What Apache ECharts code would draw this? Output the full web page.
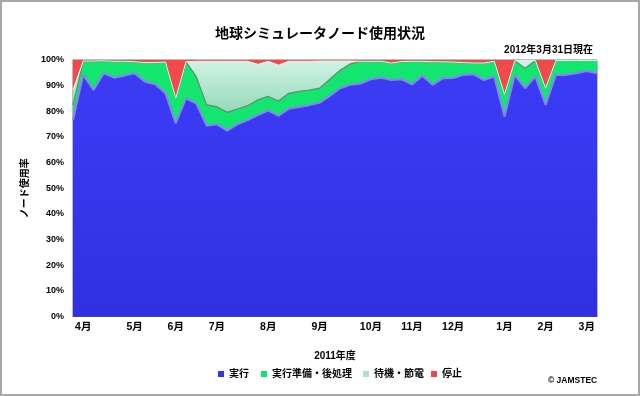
<!DOCTYPE html>
<html><head><meta charset="utf-8">
<script src="https://cdn.jsdelivr.net/npm/echarts@6/dist/echarts.min.js"></script>
<style>html,body{margin:0;padding:0;background:#fff}#c{width:640px;height:396px}</style>
</head><body><div id="c"></div>
<script>
// weekly categories, FY2011
const weeks = ['W01','W02','W03','W04','W05','W06','W07','W08','W09','W10','W11','W12','W13',
  'W14','W15','W16','W17','W18','W19','W20','W21','W22','W23','W24','W25','W26',
  'W27','W28','W29','W30','W31','W32','W33','W34','W35','W36','W37','W38','W39',
  'W40','W41','W42','W43','W44','W45','W46','W47','W48','W49','W50','W51','W52'];
const tickIndex = [1, 6, 10, 14, 19, 24, 29, 33, 37, 42, 46, 50];
const tickLabels = ['4月','5月','6月','7月','8月','9月','10月','11月','12月','1月','2月','3月'];
const yTicks = [0,10,20,30,40,50,60,70,80,90,100];

const running = [76.6,94.2,88.3,94.8,93.1,93.9,94.8,91.5,90.5,87.0,75.3,85.0,83.0,
  74.4,74.9,72.5,74.9,76.6,78.5,80.3,78.2,81.0,81.7,82.4,83.3,86.0,
  89.0,90.3,90.8,92.5,93.1,92.2,92.5,90.5,93.9,90.3,92.9,93.0,94.2,
  94.4,92.2,93.5,77.9,94.2,89.0,93.5,82.5,94.2,94.2,94.8,95.7,94.8];
const prep = [5.9,5.4,11.3,4.9,6.4,5.6,4.5,7.5,8.5,12.2,9.8,14.3,10.5,
  8.1,6.9,7.1,6.0,5.6,6.0,5.5,5.8,6.0,6.1,5.9,5.7,6.5,
  7.0,8.2,8.7,7.0,6.4,6.6,6.9,9.0,5.6,9.0,6.4,6.2,4.8,
  4.4,6.6,6.0,8.7,5.5,7.8,6.3,6.5,5.6,5.6,5.0,4.1,5.0];
const idle = [5.8,0,0,0,0,0,0,0,0,0,0,0,6.0,
  17.0,17.7,19.9,18.6,17.3,13.8,13.7,14.0,12.5,11.7,11.2,10.6,7.1,
  3.6,1.1,0,0,0,0,0,0,0,0,0,0,0,
  0,0,0,0,0,3.2,0,0,0,0,0,0,0];
const stopped = [11.7,0.4,0.4,0.3,0.5,0.5,0.7,1.0,1.0,0.8,14.9,0.7,0.5,
  0.5,0.5,0.5,0.5,0.5,1.7,0.5,2.0,0.5,0.5,0.5,0.4,0.4,
  0.4,0.4,0.5,0.5,0.5,1.2,0.6,0.5,0.5,0.7,0.7,0.8,1.0,
  1.2,1.2,0.5,13.4,0.3,0,0.2,11.0,0.2,0.2,0.2,0.2,0.2];

const FONT = '"Liberation Sans", "Noto Sans CJK JP", sans-serif';
const grad = (a, b) => new echarts.graphic.LinearGradient(0, 0, 0, 1, [{offset: 0, color: a}, {offset: 1, color: b}]);

const chart = echarts.init(document.getElementById('c'), null, {renderer: 'canvas'});
chart.setOption({
  animation: false,
  backgroundColor: '#fff',
  textStyle: {fontFamily: FONT},
  title: [
    {text: '地球シミュレータノード使用状況', left: 'center', top: 22,
     textStyle: {fontSize: 14, fontWeight: 'bold', color: '#000', fontFamily: FONT}},
    {text: '2012年3月31日現在', right: 42, top: 40,
     textStyle: {fontSize: 10, fontWeight: 'bold', color: '#000', fontFamily: FONT}},
    {text: '© JAMSTEC', left: 543, top: 371,
     textStyle: {fontSize: 8.5, fontWeight: 'bold', color: '#000', fontFamily: FONT}}
  ],
  legend: [
    {data: ['実行'], left: 218, top: 369},
    {data: ['実行準備・後処理'], left: 261, top: 369},
    {data: ['待機・節電'], left: 363, top: 369},
    {data: ['停止'], left: 431, top: 369}
  ].map(l => Object.assign(l, {icon: 'rect', itemWidth: 6, itemHeight: 6, padding: 0,
     textStyle: {fontSize: 10, fontWeight: 'bold', color: '#000', fontFamily: FONT}})),
  grid: {left: 73, right: 43, top: 60, bottom: 79.5, show: true, borderColor: '#777', borderWidth: 1, backgroundColor: '#fff'},
  xAxis: {
    type: 'category', data: weeks, boundaryGap: false,
    name: '2011年度', nameLocation: 'middle', nameGap: 35,
    nameTextStyle: {fontSize: 10, fontWeight: 'bold', color: '#000', fontFamily: FONT},
    axisTick: {show: false},
    axisLine: {show: true, lineStyle: {color: '#555'}},
    axisLabel: {
      interval: (idx) => tickIndex.includes(idx),
      formatter: (v, idx) => { const k = tickIndex.indexOf(idx); return k >= 0 ? tickLabels[k] : ''; },
      fontSize: 10.5, fontWeight: 'bold', color: '#000', margin: 5, fontFamily: FONT
    },
    splitLine: {show: false}
  },
  yAxis: {
    type: 'value', min: yTicks[0], max: yTicks[yTicks.length - 1], interval: 10,
    name: 'ノード使用率', nameLocation: 'middle', nameGap: 41,
    nameTextStyle: {fontSize: 10, fontWeight: 'bold', color: '#000', fontFamily: FONT},
    axisLine: {show: true, lineStyle: {color: '#777'}},
    axisTick: {show: false},
    axisLabel: {formatter: '{value}%', fontSize: 9, fontWeight: 'bold', color: '#000', margin: 9, fontFamily: FONT},
    splitLine: {show: false}
  },
  series: [
    {name: '実行', type: 'line', stack: 'all', data: running, symbol: 'none', color: '#3535ee',
     lineStyle: {color: '#8c80f2', width: 2}, areaStyle: {opacity: 1, color: grad('#3c3cf6', '#3030e2')}},
    {name: '実行準備・後処理', type: 'line', stack: 'all', data: prep, symbol: 'none', color: '#12e36c',
     lineStyle: {color: '#5b8c6c', width: 1.2}, areaStyle: {opacity: 1, color: '#12e66e'}},
    {name: '待機・節電', type: 'line', stack: 'all', data: idle, symbol: 'none', color: '#a8e2c8',
     lineStyle: {color: '#e4f8ee', width: 1}, areaStyle: {opacity: 1, color: grad('#d2f3e4', '#94d9b9')}},
    {name: '停止', type: 'line', stack: 'all', data: stopped, symbol: 'none', color: '#f04848',
     lineStyle: {width: 0}, areaStyle: {opacity: 1, color: '#f24a4a'}}
  ],
  graphic: [{type: 'rect', silent: true, z: 100,
    shape: {x: 1, y: 1, width: 638, height: 394},
    style: {fill: null, stroke: '#a8a8a8', lineWidth: 2}}]
});
</script></body></html>
